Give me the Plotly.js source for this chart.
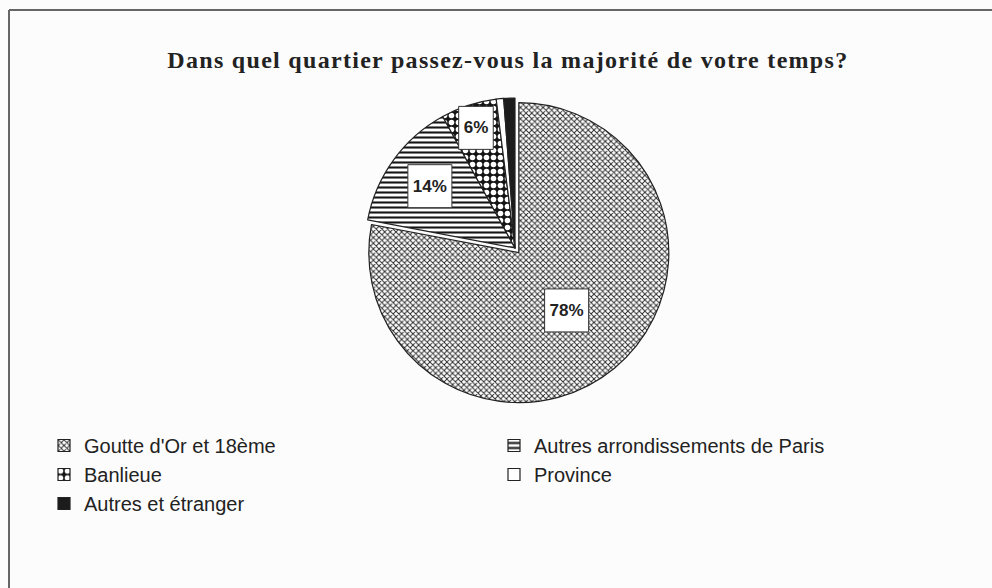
<!DOCTYPE html>
<html>
<head>
<meta charset="utf-8">
<script src="https://cdn.plot.ly/plotly-3.0.1.min.js"></script>
<style>
  html, body { margin: 0; padding: 0; background: #fcfcfc; }
  #chart { width: 992px; height: 588px; }
  #chart .gtitle { letter-spacing: 1.3px; }
</style>
</head>
<body>
<div id="chart"></div>
<script>
// ---- data ----
const categories = [
  "Goutte d'Or et 18ème",
  "Autres arrondissements de Paris",
  "Banlieue",
  "Province",
  "Autres et étranger"
];
const values = [78, 14, 6, 0.8, 1.2];
const shownLabels = ["%{percent:.0%}", "%{percent:.0%}", "%{percent:.0%}", "", ""];
const chartTitle = "Dans quel quartier passez-vous la majorité de votre temps?";

// ---- styles ----
const patternShapes = ["x", "-", ".", "", ""];
const patternBg = ["#ffffff", "#ffffff", "#151515", "#ffffff", "#1c1c1c"];
const patternFg = ["#2a2a2a", "#151515", "#ffffff", "#ffffff", "#1c1c1c"];
const patternSize = [4, 5, 7, 8, 8];
const patternSolidity = [0.42, 0.42, 0.5, 0.3, 0.3];
const pulls = [0.04, 0, 0, 0, 0];

const trace = {
  type: "pie",
  labels: categories,
  values: values,
  sort: false,
  direction: "clockwise",
  rotation: 0,
  pull: pulls,
  texttemplate: shownLabels,
  textposition: "inside",
  insidetextorientation: "horizontal",
  textfont: { family: "Liberation Sans, Arial, sans-serif", size: 17, color: "#222", weight: "bold" },
  hoverinfo: "label+percent",
  marker: {
    colors: patternBg,
    line: { color: "#222", width: 1.2 },
    pattern: {
      shape: patternShapes,
      bgcolor: patternBg,
      fgcolor: patternFg,
      size: patternSize,
      solidity: patternSolidity,
      fillmode: "replace"
    }
  },
  domain: { x: [0.3619, 0.6764], y: [0.3129, 0.8435] }
};

const layout = {
  width: 992,
  height: 588,
  margin: { l: 0, r: 0, t: 0, b: 0 },
  paper_bgcolor: "#fcfcfc",
  plot_bgcolor: "#fcfcfc",
  showlegend: true,
  title: {
    text: "<b>" + chartTitle + "</b>",
    font: { family: "Liberation Serif, Times New Roman, serif", size: 24, color: "#222" },
    x: 0.512,
    xanchor: "center",
    y: 0.898,
    yanchor: "middle"
  },
  legend: {
    orientation: "h",
    x: 44 / 992,
    xanchor: "left",
    y: 1 - 426 / 588,
    yanchor: "top",
    entrywidth: 405,
    entrywidthmode: "pixels",
    traceorder: "normal",
    itemclick: false,
    font: { family: "Liberation Sans, Arial, sans-serif", size: 20, color: "#222" },
    bgcolor: "rgba(0,0,0,0)"
  },
  shapes: [
    { type: "line", xref: "paper", yref: "paper", x0: 9/992, x1: 1, y0: 1 - 10/588, y1: 1 - 10/588,
      line: { color: "#666", width: 2 } },
    { type: "line", xref: "paper", yref: "paper", x0: 9/992, x1: 9/992, y0: 0, y1: 1 - 10/588,
      line: { color: "#666", width: 2 } }
  ]
};

Plotly.newPlot("chart", [trace], layout, { displayModeBar: false, staticPlot: true }).then(function (gd) {
  // white framed boxes behind the percentage labels, sized from the rendered text
  const ns = "http://www.w3.org/2000/svg";
  gd.querySelectorAll("g.slicetext text").forEach(function (t) {
    if (!t.textContent) return;
    const bb = t.getBBox();
    const padX = 5, padY = 12;
    const r = document.createElementNS(ns, "rect");
    r.setAttribute("x", bb.x - padX);
    r.setAttribute("y", bb.y - padY);
    r.setAttribute("width", bb.width + 2 * padX);
    r.setAttribute("height", bb.height + 2 * padY);
    r.setAttribute("fill", "#ffffff");
    r.setAttribute("stroke", "#333");
    r.setAttribute("stroke-width", "1");
    const tr = t.getAttribute("transform");
    if (tr) r.setAttribute("transform", tr);
    t.parentNode.insertBefore(r, t);
  });
});
</script>
</body>
</html>
